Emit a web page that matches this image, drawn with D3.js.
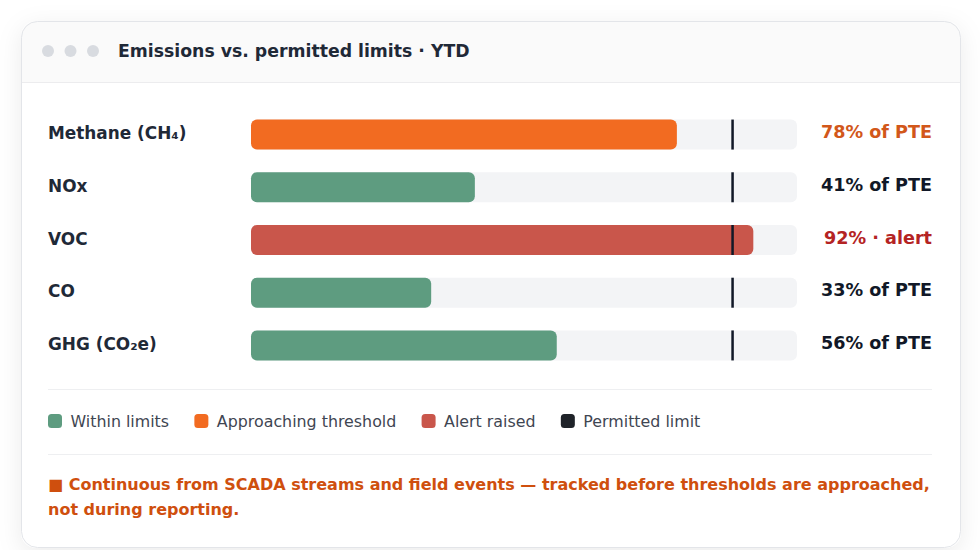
<!DOCTYPE html>
<html><head><meta charset="utf-8">
<script src="https://cdn.jsdelivr.net/npm/d3@7"></script>
<style>
html,body{margin:0;padding:0;background:#fff;}
svg{display:block;font-family:"DejaVu Sans",sans-serif;}
</style></head>
<body><svg id="c" width="980" height="550"></svg>
<script>
const title = "Emissions vs. permitted limits · YTD";
const categories = ["Methane (CH₄)", "NOx", "VOC", "CO", "GHG (CO₂e)"];
const values = [78, 41, 92, 33, 56];
const limits = [88.2, 88.2, 88.2, 88.2, 88.2];
const statuses = ["approach", "within", "alert", "within", "within"];
const valueLabels = ["78% of PTE", "41% of PTE", "92% · alert", "33% of PTE", "56% of PTE"];
const legendLabels = ["Within limits", "Approaching threshold", "Alert raised", "Permitted limit"];
const legendKeys = ["within", "approach", "alert", "limit"];
const footnote = "■ Continuous from SCADA streams and field events — tracked before thresholds are approached, not during reporting.";

const barColor = {within:"#5e9c80", approach:"#f26b21", alert:"#c9564b", limit:"#1f2329"};
const textColor = {within:"#111827", approach:"#d2571a", alert:"#b42323"};

const svg = d3.select("#c");
const defs = svg.append("defs");
const f = defs.append("filter").attr("id","sh").attr("x","-10%").attr("y","-10%").attr("width","120%").attr("height","130%");
f.append("feDropShadow").attr("dx",0).attr("dy",6).attr("stdDeviation",12).attr("flood-color","#0f172a").attr("flood-opacity",0.08);
const CX = 21, CY = 21, CW = 940, CH = 527;
defs.append("clipPath").attr("id","cardclip").append("rect")
  .attr("x",CX).attr("y",CY).attr("width",CW).attr("height",CH).attr("rx",16);

// card
svg.append("rect").attr("x",CX).attr("y",CY).attr("width",CW).attr("height",CH).attr("rx",16)
  .attr("fill","#fff").attr("filter","url(#sh)");
const cg = svg.append("g").attr("clip-path","url(#cardclip)");
cg.append("rect").attr("x",CX).attr("y",CY).attr("width",CW).attr("height",62).attr("fill","#fafafa");
cg.append("line").attr("x1",CX).attr("x2",CX+CW).attr("y1",82.5).attr("y2",82.5).attr("stroke","#ececee");
svg.append("rect").attr("x",CX+0.5).attr("y",CY+0.5).attr("width",CW-1).attr("height",CH-1).attr("rx",16)
  .attr("fill","none").attr("stroke","#e3e5e9");

// header dots
svg.selectAll("circle.dot").data([48,70.5,93]).join("circle").attr("class","dot")
  .attr("cx",d=>d).attr("cy",51).attr("r",6).attr("fill","#d8dbe0");
svg.append("text").attr("x",118).attr("y",51).attr("dy","0.36em")
  .attr("font-size",17.3).attr("font-weight",700).attr("fill","#1f2937").text(title);

// scales
const x = d3.scaleLinear().domain([0,100]).range([251,797]);
const y = d3.scaleBand().domain(categories).range([109,371]).paddingInner(0.43).paddingOuter(0.2);
const bh = 30;
const rowY = d => y(d) + y.bandwidth()/2;

const rows = svg.append("g").selectAll("g").data(categories.map((c,i)=>({c,v:values[i],l:limits[i],s:statuses[i],t:valueLabels[i]})))
  .join("g");
rows.append("text").attr("x",48).attr("y",d=>rowY(d.c)-1.5).attr("dy","0.36em")
  .attr("font-size",16.9).attr("font-weight",700).attr("fill","#1f2937").text(d=>d.c);
rows.append("rect").attr("x",x(0)).attr("y",d=>rowY(d.c)-bh/2).attr("width",x(100)-x(0)).attr("height",bh)
  .attr("rx",6).attr("fill","#f3f4f6");
rows.append("rect").attr("x",x(0)).attr("y",d=>rowY(d.c)-bh/2).attr("width",d=>x(d.v)-x(0)).attr("height",bh)
  .attr("rx",6).attr("fill",d=>barColor[d.s]);
rows.append("rect").attr("x",d=>x(d.l)-1.25).attr("y",d=>rowY(d.c)-bh/2).attr("width",2.5).attr("height",bh)
  .attr("fill","#111827");
rows.append("text").attr("x",932).attr("y",d=>rowY(d.c)-2.8).attr("dy","0.36em").attr("text-anchor","end")
  .attr("font-size",17.6).attr("font-weight",700).attr("fill",d=>textColor[d.s]).text(d=>d.t);

// dividers
svg.selectAll("line.div").data([389.5,454.5]).join("line").attr("class","div")
  .attr("x1",48).attr("x2",932).attr("y1",d=>d).attr("y2",d=>d).attr("stroke","#eeeff1");

// legend
const lg = svg.append("g");
let lx = 48;
legendLabels.forEach((lab,i)=>{
  lg.append("rect").attr("x",lx).attr("y",414).attr("width",14).attr("height",14).attr("rx",3.5)
    .attr("fill",barColor[legendKeys[i]]);
  const t = lg.append("text").attr("x",lx+22.5).attr("y",421).attr("dy","0.36em")
    .attr("font-size",15.85).attr("fill","#3f4652").text(lab);
  lx = lx + 22.5 + t.node().getComputedTextLength() + 25.3;
});

// footnote with wrapping
const fn = svg.append("text").attr("x",48).attr("y",490).attr("font-size",16).attr("font-weight",700).attr("fill","#cf4f0e");
const words = footnote.split(" ");
let line = [], ln = 0;
let ts = fn.append("tspan").attr("x",48).attr("y",490);
words.forEach(w=>{
  line.push(w); ts.text(line.join(" "));
  if (ts.node().getComputedTextLength() > 884 && line.length>1){
    line.pop(); ts.text(line.join(" ")); line=[w]; ln++;
    ts = fn.append("tspan").attr("x",48).attr("y",490+ln*25).text(w);
  }
});
</script></body></html>
